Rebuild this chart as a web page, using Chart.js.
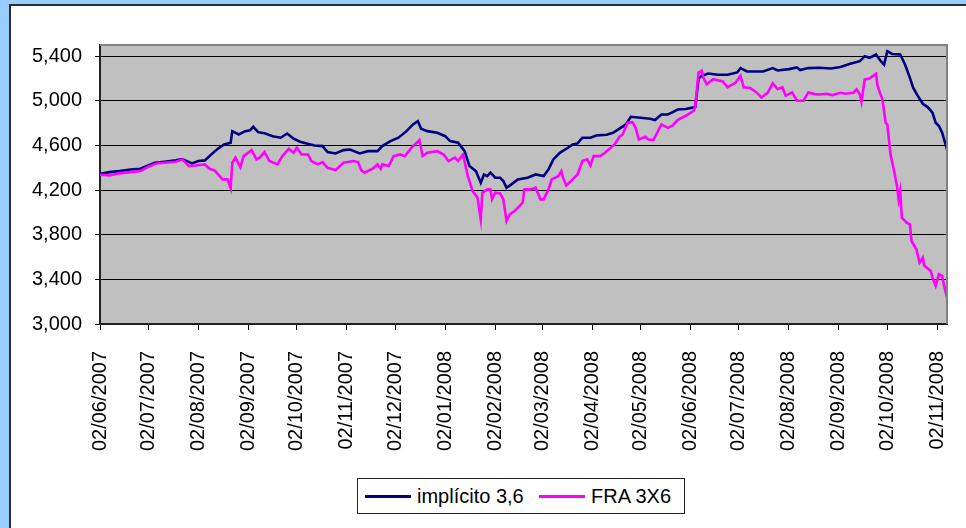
<!DOCTYPE html>
<html>
<head>
<meta charset="utf-8">
<script src="https://cdn.jsdelivr.net/npm/chart.js@4.4.1/dist/chart.umd.min.js"></script>
<style>
  html, body { margin:0; padding:0; width:966px; height:528px; overflow:hidden; background:#99ccff; }
  #frame { position:absolute; left:9px; top:4px; width:1000px; height:600px; background:#ffffff; border:2px solid #2b2b2b; }
  #wrap { position:absolute; left:0; top:0; width:966px; height:528px; }
  #legend { position:absolute; left:357px; top:478px; width:326px; height:34px; border:1px solid #222; background:#fff;
            font-family:"Liberation Sans", Arial, sans-serif; font-size:20px; color:#000; }
  .item { position:absolute; top:0; height:34px; line-height:34px; white-space:nowrap; }
  .swatch { position:absolute; top:16px; width:46px; height:3px; }
  .lbl { position:absolute; left:52px; top:0; }
</style>
</head>
<body>
<div id="frame"></div>
<div id="wrap"><canvas id="c" width="966" height="528"></canvas></div>
<div id="legend"></div>
<script>
// ---- data (day offsets counted from 02/06/2007) ----
const xTickDays = [0,30,61,92,122,153,183,214,245,274,305,335,366,396,427,458,488,519];
const xTickLabels = ['02/06/2007','02/07/2007','02/08/2007','02/09/2007','02/10/2007','02/11/2007','02/12/2007',
  '02/01/2008','02/02/2008','02/03/2008','02/04/2008','02/05/2008','02/06/2008','02/07/2008','02/08/2008',
  '02/09/2008','02/10/2008','02/11/2008'];
const yTicks = [3000,3400,3800,4200,4600,5000,5400];

const implicitoDays = [0,6,12,19,25,28,34,40,47,51,57,61,65,69,73,77,81,82,86,90,93,95,98,102,107,112,116,120,124,128,
  133,138,141,146,151,155,161,166,172,175,180,185,190,194,197,199,203,209,214,217,222,226,229,233,236,238,240,242,245,248,
  250,252,255,259,265,270,275,278,281,285,290,293,296,299,304,308,314,318,322,326,329,335,341,344,348,352,355,358,363,368,
  369,371,373,377,383,389,395,397,401,406,411,417,420,427,432,434,439,446,453,459,465,471,474,477,481,484,486,488,491,496,
  499,502,504,507,510,513,516,518,520,522,525];
const implicitoValues = [4345,4361,4370,4385,4391,4409,4445,4454,4466,4478,4439,4460,4466,4520,4570,4609,4625,4728,4698,4728,
  4735,4767,4719,4710,4683,4669,4707,4660,4633,4618,
  4600,4594,4540,4528,4558,4564,4528,4549,4549,4594,4639,4669,4728,4788,4818,4750,4728,4713,4683,4639,4624,4549,4415,4370,4266,4340,4325,4356,4311,4311,
  4281,4221,4251,4296,4311,4340,4325,4385,4475,4534,4579,4609,4618,4669,4669,4690,4696,4713,4750,4788,4857,4848,4839,4827,4877,4877,4898,4922,4926,4941,
  4945,5200,5224,5245,5233,5233,5254,5293,5263,5263,5263,5293,5272,5284,5299,5275,5293,5296,5290,5302,5331,5355,5400,5385,5415,5355,5325,5445,5420,5415,
  5325,5206,5117,5042,4973,4944,4893,4803,4774,4714,4565];

const fraDays = [0,6,12,19,25,30,35,40,47,51,55,59,65,68,71,76,79,81,82,84,87,89,94,97,99,102,105,110,113,117,120,122,125,129,
  131,135,138,141,146,151,157,160,162,164,169,172,174,175,179,182,186,189,193,198,200,203,209,213,216,220,222,225,228,231,
  234,236,237,240,242,243,245,248,250,252,254,257,262,263,267,270,273,275,278,280,284,286,287,289,293,296,299,302,304,306,
  310,313,319,322,324,327,330,332,334,338,340,343,348,352,355,358,363,368,369,371,373,374,376,380,386,389,394,397,399,403,
  407,410,414,417,420,423,425,429,432,436,439,443,446,450,454,459,462,467,469,471,472,474,477,479,481,482,485,487,488,490,
  492,494,495,496,497,500,502,503,506,508,510,511,515,516,518,520,522,523,525];
const fraValues = [4338,4331,4350,4361,4370,4409,4439,4445,4454,4475,4415,4420,4430,4391,4376,4296,4296,4215,4445,4490,4405,4504,4558,4475,4490,4540,4460,4430,4504,4570,4534,4579,4519,4519,
  4460,4430,4451,4400,4379,4445,4460,4451,4376,4356,4391,4430,4391,4430,4415,4504,4519,4504,4579,4648,4504,4534,4549,4519,4460,4490,4460,4519,4325,4191,
  4131,3938,4176,4206,4206,4117,4176,4170,4117,3923,3982,4012,4087,4206,4206,4221,4117,4117,4206,4296,4325,4370,4311,4242,4296,4340,4460,4475,4421,4504,
  4504,4534,4609,4678,4698,4803,4809,4758,4654,4678,4654,4648,4788,4758,4779,4827,4866,4910,4955,5254,5269,5209,5149,5194,5173,5120,5164,5224,5120,5114,
  5075,5030,5075,5156,5105,5120,5045,5075,5000,5000,5075,5060,5057,5063,5051,5072,5063,5072,5102,5057,4991,5191,5200,5221,5242,5131,5012,4803,4788,4520,
  4386,4237,4117,4192,3953,3908,3893,3744,3670,3551,3595,3521,3476,3416,3342,3446,3431,3357,3237];

const seriesNames = ['implícito 3,6', 'FRA 3X6'];
const seriesColors = ['#000080', '#ff00ff'];

function pts(days, vals) { return days.map((d, i) => ({ x: d, y: vals[i] })); }

const plotBg = {
  id: 'plotBg',
  beforeDraw(chart) {
    const a = chart.chartArea, ctx = chart.ctx;
    ctx.save();
    ctx.fillStyle = '#c0c0c0';
    ctx.fillRect(a.left, a.top, a.right - a.left, a.bottom - a.top);
    ctx.restore();
  },
  afterDraw(chart) {
    const a = chart.chartArea, ctx = chart.ctx;
    ctx.save();
    ctx.strokeStyle = '#808080';
    ctx.lineWidth = 2;
    ctx.beginPath();
    ctx.moveTo(a.left, a.top);
    ctx.lineTo(a.right, a.top);
    ctx.lineTo(a.right, a.bottom);
    ctx.stroke();
    ctx.restore();
  }
};

const FONT = { family: '"Liberation Sans", Arial, sans-serif', size: 20 };

const chart = new Chart(document.getElementById('c'), {
  type: 'line',
  data: {
    datasets: [
      { label: seriesNames[0], data: pts(implicitoDays, implicitoValues), borderColor: seriesColors[0],
        backgroundColor: seriesColors[0], borderWidth: 2.6, pointRadius: 0, tension: 0, order: 1 },
      { label: seriesNames[1], data: pts(fraDays, fraValues), borderColor: seriesColors[1],
        backgroundColor: seriesColors[1], borderWidth: 2.6, pointRadius: 0, tension: 0, order: 0 }
    ]
  },
  options: {
    responsive: false,
    animation: false,
    events: [],
    layout: { padding: { top: 45, right: 19, bottom: 0, left: 0 } },
    plugins: { legend: { display: false }, tooltip: { enabled: false } },
    scales: {
      x: {
        type: 'linear', min: 0, max: 525,
        afterBuildTicks(s) { s.ticks = xTickDays.map(v => ({ value: v })); },
        afterFit(s) { s.height = 204; s.paddingLeft = 0; s.paddingRight = 0; },
        grid: { drawOnChartArea: false, drawTicks: true, tickLength: 6, color: '#000', lineWidth: 1 },
        border: { display: true, color: '#222', width: 2 },
        ticks: {
          autoSkip: false, minRotation: 90, maxRotation: 90, padding: 21, color: '#000', font: FONT,
          callback(v) { const i = xTickDays.indexOf(v); return i >= 0 ? xTickLabels[i] : ''; }
        }
      },
      y: {
        type: 'linear', min: 3000, max: 5500,
        afterBuildTicks(s) { s.ticks = yTicks.map(v => ({ value: v })); },
        afterFit(s) { s.width = 100; s.paddingTop = 0; s.paddingBottom = 0; },
        grid: { drawOnChartArea: true, drawTicks: true, tickLength: 5, color: '#000', lineWidth: 1 },
        border: { display: true, color: '#222', width: 2 },
        ticks: {
          padding: 13, color: '#000', font: FONT,
          callback(v) { return v.toLocaleString('en-US'); }
        }
      }
    }
  },
  plugins: [plotBg]
});

// HTML legend built from the datasets
const lg = document.getElementById('legend');
const offsets = [7, 181];
chart.data.datasets.forEach((ds, i) => {
  const it = document.createElement('div');
  it.className = 'item';
  it.style.left = offsets[i] + 'px';
  const sw = document.createElement('div');
  sw.className = 'swatch';
  sw.style.background = ds.borderColor;
  const tx = document.createElement('span');
  tx.className = 'lbl';
  tx.textContent = ds.label;
  it.appendChild(sw); it.appendChild(tx);
  lg.appendChild(it);
});
</script>
</body>
</html>
